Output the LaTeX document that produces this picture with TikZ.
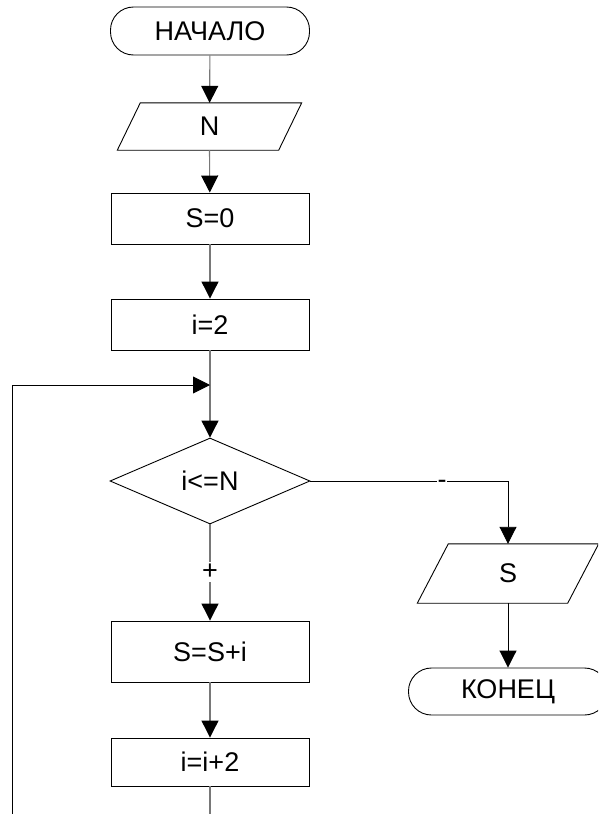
\documentclass[tikz,border=0pt]{standalone}
\usepackage{fontspec}
\setmainfont{Liberation Sans}
\usetikzlibrary{arrows.meta,shapes.geometric}
\definecolor{flowgray}{RGB}{120,120,120}
\tikzset{
  txt/.style={font=\fontsize{27}{32}\selectfont},
  base/.style={draw=black, line width=0.9pt, inner sep=0pt, txt},
  term/.style={base, rectangle, rounded corners=23pt, minimum width=199pt, minimum height=48pt},
  proc/.style={base, rectangle, minimum width=198pt},
  io/.style={rectangle, inner sep=0pt, txt},
  iobox/.style={draw=black, line width=0.9pt, line join=miter},
  cond/.style={base, diamond, minimum width=200pt, minimum height=86pt},
  lbl/.style={fill=white, inner sep=2pt, txt},
  tipf/.tip={Triangle[length=17pt,width=17pt,color=black]},
  mainln/.style={draw=flowgray, line width=1.1pt},
  sideln/.style={draw=black, line width=0.9pt},
}
\begin{document}
\begin{tikzpicture}[x=1pt,y=-1pt]
\useasboundingbox (0,0) rectangle (598,814);
\clip (0,0) rectangle (598,814);

% main column
\node[term] (start) at (210,31) {НАЧАЛО};
\node[io, minimum width=161pt, minimum height=47pt] (inN) at (209.5,126.5) {N};
\draw[iobox] ([xshift=11.5pt]inN.north west) -- ([xshift=11.5pt]inN.north east)
  -- ([xshift=-11.5pt]inN.south east) -- ([xshift=-11.5pt]inN.south west) -- cycle;
\node[proc, minimum height=51pt] (s0) at (210,218.5) {S=0};
\node[proc, minimum height=51pt] (i2) at (210,324.5) {i=2};
\coordinate (join) at (210,385);
\node[cond] (test) at (210,481) {i<=N};
\node[proc, minimum height=61pt] (acc) at (210,651.5) {S=S+i};
\node[proc, minimum height=48pt] (step2) at (210,762) {i=i+2};

% exit branch
\node[io, minimum width=150pt, minimum height=59pt] (outS) at (508,573.5) {S};
\draw[iobox] ([xshift=15.5pt]outS.north west) -- ([xshift=15.5pt]outS.north east)
  -- ([xshift=-15.5pt]outS.south east) -- ([xshift=-15.5pt]outS.south west) -- cycle;
\node[term, minimum height=47pt] (stop) at (508,691.5) {КОНЕЦ};

% loop-back corners (below the visible area)
\coordinate (lb) at (210,840);
\coordinate (ll) at (12,840);
\coordinate (lt) at (12,385);

% connectors
\draw[mainln, -tipf] (start) -- (inN);
\draw[mainln, -tipf] (inN.south) -- (s0);
\draw[mainln, -tipf] (s0) -- (i2);
\draw[mainln, -tipf] (i2) -- (test.north);
\draw[mainln, -tipf] (test.south) -- (acc);
\draw[mainln, -tipf] (acc) -- (step2);
\draw[mainln] (step2) -- (lb);
\draw[sideln] (lb) -- (ll);
\draw[sideln, -tipf] (ll) -- (lt) -- (join);
\draw[sideln, -tipf] (test.east) -| (outS.north);
\draw[sideln, -tipf] (outS.south) -- (stop);

% branch labels
\node[lbl] (yes) at (210,572) {+};
\node[lbl, inner sep=0.5pt] (no) at (442,484) {-};
\end{tikzpicture}
\end{document}
